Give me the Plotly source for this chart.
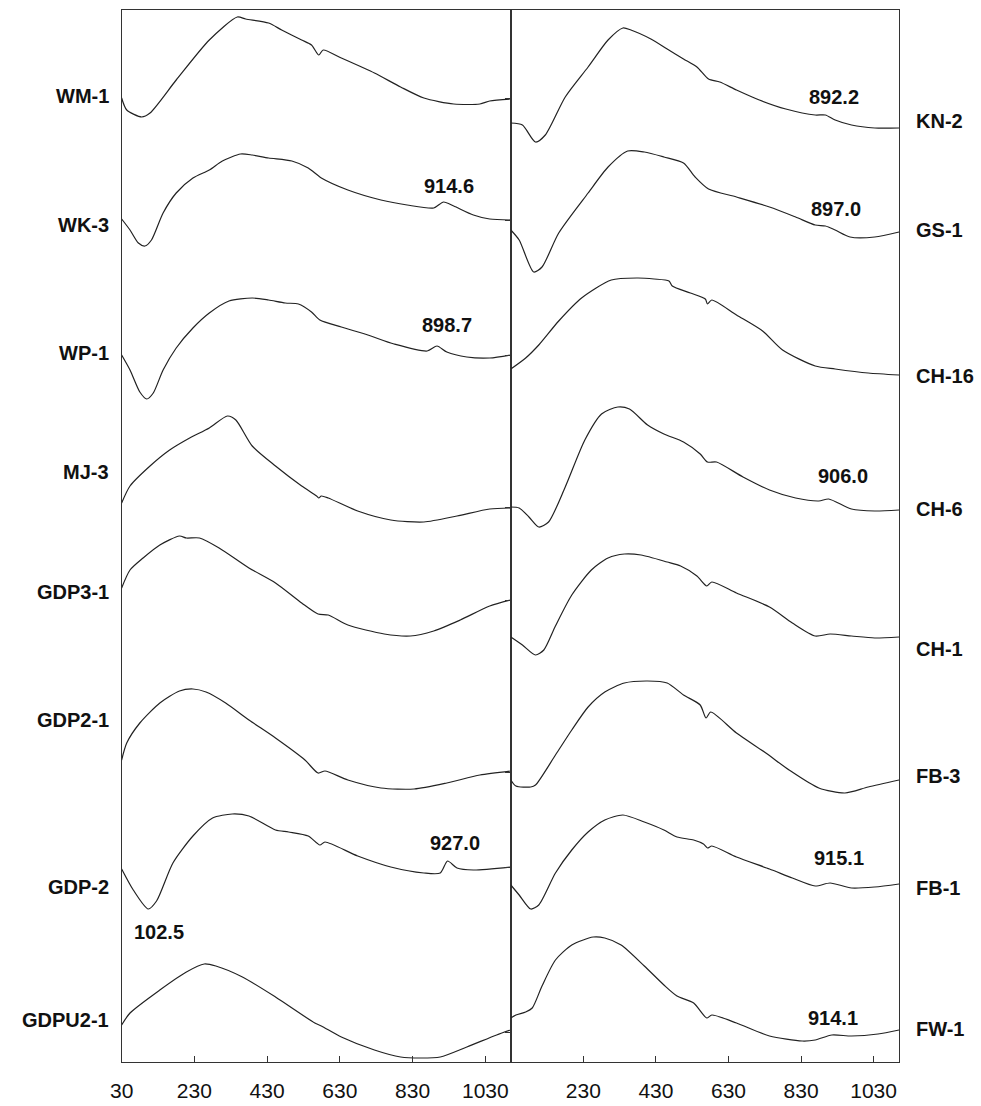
import plotly.graph_objects as go

# ---------------- data (temperature in °C, DTA signal in arbitrary units, up = exo) -------------
# Left panel
WM1_T = [30, 44, 85, 108, 180, 271, 348, 371, 434, 470, 525, 552, 572, 584, 634, 725, 797, 861, 943, 1015, 1042, 1099]
WM1_V = [0, -12, -19, -15, 18, 58, 81, 79, 75, 68, 58, 53, 43, 48, 40, 25, 11, 0, -6, -6, -3, -1]

WK3_T = [30, 53, 76, 94, 112, 144, 180, 226, 271, 307, 357, 389, 434, 498, 543, 579, 652, 743, 815, 888, 915, 943, 997, 1042, 1099]
WK3_V = [0, -11, -24, -27, -21, 6, 26, 41, 49, 58, 65, 64, 61, 58, 51, 41, 29, 19, 14, 11, 17, 13, 4, 0, -1]

WP1_T = [30, 53, 80, 99, 117, 144, 180, 226, 271, 325, 389, 434, 480, 516, 552, 575, 634, 707, 779, 870, 897, 924, 979, 1042, 1099]
WP1_V = [0, -15, -37, -44, -38, -15, 7, 27, 42, 54, 57, 55, 52, 51, 43, 35, 28, 20, 11, 4, 9, 3, -2, -3, 0]

MJ3_T = [30, 53, 108, 162, 217, 271, 321, 344, 389, 453, 525, 566, 572, 579, 598, 679, 770, 861, 952, 1042, 1099]
MJ3_V = [0, 17, 37, 53, 65, 75, 87, 83, 57, 37, 17, 7, 5, 7, 5, -8, -17, -19, -13, -6, -5]

GDP31_T = [30, 53, 89, 135, 189, 208, 244, 298, 380, 453, 525, 570, 598, 652, 752, 824, 888, 961, 1042, 1099]
GDP31_V = [0, 18, 30, 43, 52, 50, 50, 40, 20, 5, -15, -26, -27, -37, -46, -48, -43, -32, -18, -12]

GDP21_T = [30, 44, 80, 135, 189, 226, 262, 316, 380, 453, 534, 570, 589, 652, 743, 834, 924, 1015, 1099]
GDP21_V = [0, 17, 37, 57, 69, 71, 68, 57, 40, 22, 0, -13, -11, -20, -28, -29, -23, -15, -11]

GDP2_T = [30, 62, 103, 126, 171, 226, 280, 334, 380, 453, 489, 543, 575, 589, 679, 770, 861, 906, 926, 952, 997, 1099]
GDP2_V = [0, -21, -40, -32, 6, 33, 51, 55, 53, 39, 37, 33, 24, 27, 13, 2, -4, -4, 8, 1, -1, 2]

GDPU21_T = [30, 53, 135, 208, 257, 289, 362, 453, 561, 579, 634, 725, 797, 852, 906, 979, 1061, 1099]
GDPU21_V = [0, 12, 35, 53, 61, 59, 48, 28, 2, -1, -12, -25, -32, -33, -32, -22, -10, -5]

# Right panel
KN2_T = [30, 62, 98, 125, 180, 243, 298, 339, 361, 416, 461, 506, 543, 575, 606, 652, 715, 788, 869, 897, 924, 969, 1033, 1100]
KN2_V = [0, -2, -19, -12, 26, 56, 83, 95, 93, 84, 74, 64, 56, 44, 41, 33, 23, 14, 8, 8, 3, -2, -5, -5]

GS1_T = [30, 53, 93, 116, 162, 243, 298, 352, 398, 452, 506, 538, 575, 652, 743, 815, 869, 897, 924, 965, 1033, 1100]
GS1_V = [0, -10, -42, -37, -3, 37, 63, 79, 78, 73, 67, 53, 41, 33, 23, 13, 5, 4, 0, -7, -7, -2]

CH16_T = [30, 71, 107, 162, 225, 307, 379, 425, 466, 475, 525, 566, 572, 584, 652, 724, 779, 869, 924, 1015, 1100]
CH16_V = [0, 11, 24, 48, 71, 89, 91, 90, 88, 83, 76, 70, 65, 69, 54, 38, 19, 3, 0, -4, -6]

CH6_T = [30, 53, 80, 107, 134, 180, 234, 280, 325, 357, 407, 452, 506, 552, 572, 597, 670, 743, 815, 879, 906, 969, 1033, 1100]
CH6_V = [0, -1, -10, -20, -15, 20, 67, 93, 100, 98, 82, 73, 65, 53, 45, 45, 30, 17, 9, 6, 8, -2, -4, -3]

CH1_T = [30, 62, 98, 121, 153, 198, 252, 298, 343, 389, 461, 498, 543, 570, 584, 652, 743, 806, 869, 910, 969, 1033, 1100]
CH1_V = [0, -8, -18, -13, 11, 42, 67, 79, 83, 82, 75, 71, 61, 51, 55, 44, 30, 14, 1, 3, 1, -1, 0]

FB3_T = [30, 44, 85, 98, 153, 198, 243, 289, 343, 407, 461, 506, 552, 568, 581, 652, 733, 797, 879, 951, 1015, 1100]
FB3_V = [0, -6, -7, -5, 25, 50, 73, 88, 97, 99, 97, 85, 75, 62, 68, 47, 27, 10, -8, -13, -7, 0]

FB1_T = [30, 53, 85, 107, 153, 198, 243, 289, 339, 398, 452, 488, 534, 561, 572, 584, 652, 743, 806, 869, 910, 969, 1033, 1100]
FB1_V = [0, -10, -24, -20, 12, 35, 53, 65, 70, 63, 55, 48, 45, 41, 37, 39, 28, 16, 7, -1, 2, -3, -2, 1]

FW1_T = [30, 44, 71, 89, 116, 153, 198, 257, 289, 334, 398, 452, 488, 534, 570, 584, 652, 743, 833, 869, 915, 969, 1042, 1100]
FW1_V = [0, 3, 6, 10, 32, 58, 73, 81, 80, 73, 52, 33, 22, 15, 0, 3, -5, -18, -23, -22, -17, -18, -16, -12]

LEFT_NAMES = ["WM-1", "WK-3", "WP-1", "MJ-3", "GDP3-1", "GDP2-1", "GDP-2", "GDPU2-1"]
RIGHT_NAMES = ["KN-2", "GS-1", "CH-16", "CH-6", "CH-1", "FB-3", "FB-1", "FW-1"]

# peak annotations
PEAK_TEXT = ["914.6", "898.7", "927.0", "102.5", "892.2", "897.0", "906.0", "915.1", "914.1"]
PEAK_PANEL = [1, 1, 1, 1, 2, 2, 2, 2, 2]

TICKS_LEFT = [30, 230, 430, 630, 830, 1030]
TICKS_RIGHT = [230, 430, 630, 830, 1030]

# ---------------- layout / stacking (positions, not data) ----------------
LEFT_OFFSETS = [964, 843, 707, 559, 474, 302, 193, 37]
RIGHT_OFFSETS = [939, 832, 693, 555, 425, 282, 177, 44]
LEFT_LABEL_Y = [966, 837, 709, 590, 470, 342, 175, 42]
RIGHT_LABEL_Y = [941, 832, 686, 553, 413, 286, 174, 33]
PEAK_X = [930, 924, 946, 132, 920, 926, 945, 934, 918]
PEAK_Y = [876, 737, 219, 130, 965, 853, 586, 204, 44]
DIVIDER_TICKS = [964, 842, 707, 555, 462, 290, 195, 30]

left_curves = [(WM1_T, WM1_V), (WK3_T, WK3_V), (WP1_T, WP1_V), (MJ3_T, MJ3_V),
               (GDP31_T, GDP31_V), (GDP21_T, GDP21_V), (GDP2_T, GDP2_V), (GDPU21_T, GDPU21_V)]
right_curves = [(KN2_T, KN2_V), (GS1_T, GS1_V), (CH16_T, CH16_V), (CH6_T, CH6_V),
                (CH1_T, CH1_V), (FB3_T, FB3_V), (FB1_T, FB1_V), (FW1_T, FW1_V)]

LINE = dict(color="#222222", width=1.2, shape="spline", smoothing=0.7)
FONT = "Liberation Sans, Arial, sans-serif"

fig = go.Figure()
for (t, v), off, name in zip(left_curves, LEFT_OFFSETS, LEFT_NAMES):
    fig.add_trace(go.Scatter(x=t, y=[off + a for a in v], mode="lines", line=LINE,
                             name=name, xaxis="x", yaxis="y", showlegend=False))
for (t, v), off, name in zip(right_curves, RIGHT_OFFSETS, RIGHT_NAMES):
    fig.add_trace(go.Scatter(x=t, y=[off + a for a in v], mode="lines", line=LINE,
                             name=name, xaxis="x2", yaxis="y2", showlegend=False))

annotations = []
for name, y in zip(LEFT_NAMES, LEFT_LABEL_Y):
    annotations.append(dict(text=name, xref="paper", x=100 / 981, xanchor="right",
                            yref="y", y=y, yanchor="middle", showarrow=False,
                            font=dict(family=FONT, size=20, color="#111", weight="bold")))
for name, y in zip(RIGHT_NAMES, RIGHT_LABEL_Y):
    annotations.append(dict(text=name, xref="paper", x=913 / 981, xanchor="left",
                            yref="y2", y=y, yanchor="middle", showarrow=False,
                            font=dict(family=FONT, size=20, color="#111", weight="bold")))
for txt, px, py, pn in zip(PEAK_TEXT, PEAK_X, PEAK_Y, PEAK_PANEL):
    annotations.append(dict(text=txt, xref="x" if pn == 1 else "x2", x=px, xanchor="center",
                            yref="y" if pn == 1 else "y2", y=py, yanchor="middle", showarrow=False,
                            font=dict(family=FONT, size=20, color="#111", weight="bold")))

YDOM = [44 / 1106, 1096 / 1106]
axis_common = dict(showline=True, mirror=True, linecolor="#333", linewidth=1.4,
                   showgrid=False, zeroline=False, range=[30, 1100])
fig.update_layout(
    width=981, height=1106,
    margin=dict(l=0, r=0, t=0, b=0),
    paper_bgcolor="white", plot_bgcolor="white",
    xaxis=dict(domain=[111 / 981, 505 / 981], tickvals=TICKS_LEFT, ticktext=[str(t) for t in TICKS_LEFT],
               ticks="inside", ticklen=6, tickwidth=1, tickcolor="#333", ticklabelstandoff=10,
               tickfont=dict(family=FONT, size=21, color="#111"), anchor="y", **axis_common),
    xaxis2=dict(domain=[505 / 981, 898 / 981], tickvals=TICKS_RIGHT, ticktext=[str(t) for t in TICKS_RIGHT],
                ticks="inside", ticklen=6, tickwidth=1, tickcolor="#333", ticklabelstandoff=10,
                tickfont=dict(family=FONT, size=21, color="#111"), anchor="y2", **axis_common),
    yaxis=dict(domain=YDOM, range=[0, 1052], showticklabels=False, ticks="", anchor="x",
               showline=True, mirror=True, linecolor="#333", linewidth=1.4, showgrid=False, zeroline=False),
    yaxis2=dict(domain=YDOM, range=[0, 1052], showticklabels=False, anchor="x2",
                ticks="outside", ticklen=5, tickwidth=1, tickcolor="#333", tickvals=DIVIDER_TICKS,
                showline=True, mirror=True, linecolor="#333", linewidth=1.4, showgrid=False, zeroline=False),
    annotations=annotations,
)

fig.write_html("out.html")
